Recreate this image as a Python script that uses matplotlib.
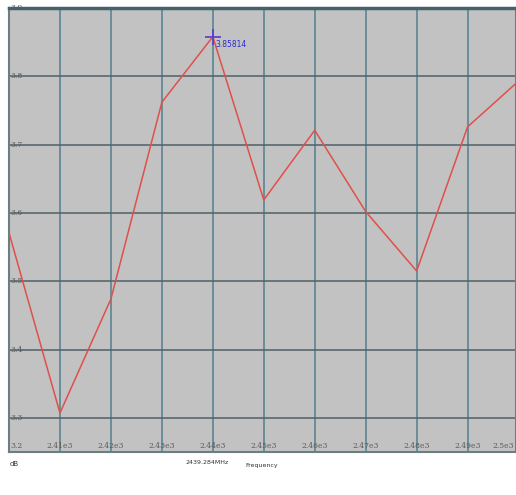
import numpy as np
import matplotlib
matplotlib.use("Agg")
import matplotlib.pyplot as plt

# Data (frequency in MHz, level in dB)
freq = [2400, 2410, 2420, 2430, 2440, 2450, 2460, 2470, 2480, 2490, 2500]
level = [3.571, 3.307, 3.474, 3.762, 3.858, 3.619, 3.721, 3.602, 3.515, 3.726, 3.793]
x_ticks = [2410, 2420, 2430, 2440, 2450, 2460, 2470, 2480, 2490, 2500]
x_labels = ["2.41e3", "2.42e3", "2.43e3", "2.44e3", "2.45e3", "2.46e3",
            "2.47e3", "2.48e3", "2.49e3", "2.5e3"]
y_ticks = [3.3, 3.4, 3.5, 3.6, 3.7, 3.8, 3.9]
y_labels = ["3.3", "3.4", "3.5", "3.6", "3.7", "3.8", "3.9"]
peak_f = 2440
peak_v = 3.858
peak_text = "3.85814"

W, H = 516, 495
fig = plt.figure(figsize=(W / 100, H / 100), dpi=100)
fig.patch.set_facecolor("white")
ax = fig.add_axes([9 / W, 43 / H, 507 / W, 444 / H])
ax.set_facecolor("#c2c2c2")

ax.set_xlim(2400, 2499.5)
ax.set_ylim(3.25, 3.9)

# grid
for xv in x_ticks:
    ax.axvline(xv, color="#6a8d99", lw=1.4, zorder=1)
for yv in y_ticks[:-1]:
    ax.axhline(yv, color="#4f6168", lw=1.1, zorder=1)

ax.plot(freq, level, color="#e0504a", lw=1.1, zorder=3)

# peak marker
ax.plot([peak_f], [peak_v], marker="+", color="#5a3ad0", ms=12, mew=1.2, zorder=4)
ax.text(peak_f + 0.6, peak_v - 0.005, peak_text, color="#2a2ad8", fontsize=5.5,
        va="top", ha="left", zorder=5)

ax.set_xticks([])
ax.set_yticks([])
for s in ["left", "bottom", "right"]:
    ax.spines[s].set_color("#6d7d84")
    ax.spines[s].set_linewidth(1.5)
ax.spines["top"].set_color("#46606c")
ax.spines["top"].set_linewidth(2.5)

# y labels inside the plot area
for yv, lab in zip(y_ticks, y_labels):
    ax.text(2400.3, yv, lab, fontsize=5.5, color="#5a5a5a", va="center", ha="left",
            family="DejaVu Serif", zorder=5)
ax.text(2400.3, 3.253, "3.2", fontsize=5.5, color="#5a5a5a", va="bottom", ha="left",
        family="DejaVu Serif", zorder=5)

# x labels inside the plot area
for xv, lab in zip(x_ticks, x_labels):
    ha = "center" if xv < x_ticks[-1] else "right"
    ax.text(min(xv, 2499.2), 3.253, lab, fontsize=5.5, color="#5a5a5a", va="bottom",
            ha=ha, family="DejaVu Serif", zorder=5)

# footer texts
fig.text(10 / W, 1 - 464 / H, "dB", fontsize=5, color="#333333", va="center")
fig.text(185 / W, 1 - 462 / H, "2439.284MHz", fontsize=4.5, color="#333333", va="center")
fig.text(245 / W, 1 - 466 / H, "Frequency", fontsize=4.5, color="#333333", va="center")

fig.savefig("out.png", dpi=100)
